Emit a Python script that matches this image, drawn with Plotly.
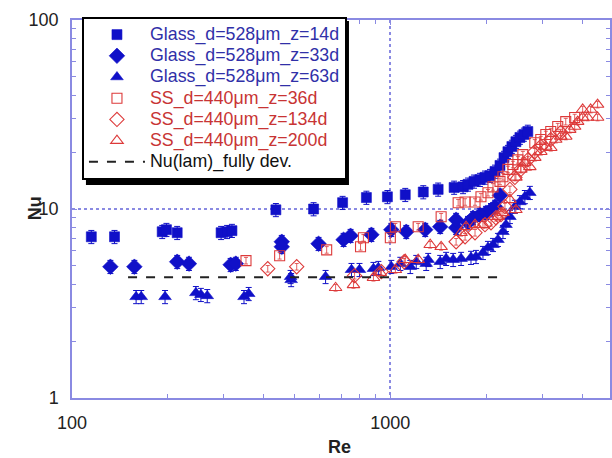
import plotly.graph_objects as go

# ---- measured Nusselt numbers vs Reynolds number ----
glass_14d_re = [115, 136, 192, 198, 214, 294, 307, 318, 437, 574, 708, 841, 979, 1114, 1269, 1413,
                1586, 1692, 1754, 1832, 1912, 1983, 2056, 2132, 2210, 2275, 2341, 2409, 2480, 2553,
                2627, 2703]
glass_14d_nu = [7.13, 7.13, 7.58, 7.77, 7.49, 7.49, 7.58, 7.68, 9.9, 10.0, 10.8, 11.5, 11.6, 11.9,
                12.3, 12.7, 13.0, 13.1, 13.5, 14.0, 14.3, 14.7, 15.0, 15.8, 17.0, 18.7, 20.1, 21.4,
                22.7, 23.9, 24.8, 25.7]

glass_33d_re = [132, 157, 214, 233, 315, 327, 456, 456, 595, 713, 750, 872, 1007, 1122, 1287, 1434,
                1609, 1609, 1754, 1819, 1912, 1997, 2071, 2132, 2210]
glass_33d_nu = [4.95, 4.95, 5.26, 5.14, 5.07, 5.14, 6.71, 6.31, 6.55, 6.88, 7.22, 7.31, 7.77, 7.58,
                7.77, 8.06, 7.96, 8.78, 8.46, 8.99, 9.33, 9.56, 9.9, 10.3, 11.8]

glass_63d_re = [159, 165, 196, 245, 254, 266, 347, 359, 486, 488, 626, 755, 800, 885, 917, 1007,
                1075, 1155, 1206, 1296, 1315, 1434, 1497, 1575, 1668, 1792, 1858, 1954, 2026, 2101,
                2178, 2258, 2308, 2375, 2462, 2553, 2646, 2743]
glass_63d_nu = [3.43, 3.43, 3.43, 3.60, 3.52, 3.47, 3.43, 3.56, 4.38, 4.22, 4.38, 4.77, 4.77, 4.83,
                4.89, 4.95, 5.14, 4.95, 5.26, 5.14, 5.39, 5.26, 5.46, 5.39, 5.46, 5.53, 5.59, 5.87,
                6.24, 6.47, 6.88, 7.58, 8.26, 9.10, 10.3, 10.9, 11.6, 12.2]

ss_36d_re = [352, 449, 631, 806, 823, 1000, 1037, 1223, 1444, 1633, 1717, 1845, 1926, 2026, 2101,
             2210, 2258, 2341, 2427, 2516, 2608, 2843, 2969, 3079, 3191, 3356, 3556, 3793]
ss_36d_nu = [5.33, 5.66, 6.08, 6.31, 7.04, 7.04, 8.06, 8.06, 9.10, 10.8, 10.9, 10.9, 11.6, 12.2,
             13.1, 14.0, 14.8, 16.2, 17.2, 18.2, 19.4, 22.4, 23.3, 24.8, 25.7, 27.3, 29.0, 30.5]

ss_134d_re = [412, 508, 772, 937, 1105, 1609, 1717, 1845, 1983, 2071, 2147, 2226, 2291, 2375, 2462,
              2570, 2703, 2843, 2969, 3191, 3429]
ss_134d_nu = [4.83, 4.95, 4.44, 4.66, 5.26, 6.71, 7.13, 7.49, 8.26, 8.46, 8.99, 9.33, 10.3, 12.7,
              14.7, 16.2, 18.2, 20.1, 21.4, 23.3, 25.4]

ss_200d_re = [673, 766, 885, 930, 1037, 1114, 1223, 1334, 1444, 1668, 1729, 1845, 1954, 2178, 2258,
              2480, 2375, 2480, 2570, 2646, 2743, 2843, 2969, 3079, 3191, 3308, 3429, 3556, 3660,
              3793, 3876, 4019, 4019, 4166, 4257, 4477, 4477]
ss_200d_nu = [3.83, 3.97, 4.33, 4.60, 4.77, 5.39, 5.39, 6.47, 6.31, 7.49, 8.06, 8.26, 8.26, 9.10,
              9.56, 9.9, 11.2, 14.7, 16.2, 17.6, 16.7, 18.7, 20.1, 21.4, 21.1, 23.3, 24.2, 24.2,
              26.3, 27.3, 29.0, 30.5, 33.6, 30.5, 33.6, 35.7, 30.5]

# laminar fully developed value
lam_re = [150, 2180]
lam_nu = [4.36, 4.36]

x_ticks = [100, 1000]
y_ticks = [1, 10, 100]
x_minor = [200, 300, 400, 500, 600, 700, 800, 900, 2000, 3000, 4000]
y_minor = [2, 3, 4, 5, 6, 7, 8, 9, 20, 30, 40, 50, 60, 70, 80, 90]

BLUE = "#1010c8"
RED = "#dd3a3a"
BLUE_TXT = "#3030a8"
RED_TXT = "#c83434"
AXIS = "#8a8ae2"
FONT = "Liberation Sans, Arial"
LEG_SIZE = "17.8px"

fig = go.Figure()


def label(text, color):
    return f"<span style='color:{color};font-size:{LEG_SIZE}'>{text}</span>"


def glass(name, x, y, symbol, size):
    fig.add_trace(go.Scatter(
        x=x, y=y, mode="markers", name=label(name, BLUE_TXT),
        marker=dict(symbol=symbol, size=size, color=BLUE, line=dict(width=0.6, color=BLUE)),
        error_y=dict(type="percent", value=8, color=BLUE, thickness=1, width=3),
    ))


def steel(name, x, y, symbol, size):
    fig.add_trace(go.Scatter(
        x=x, y=y, mode="markers", name=label(name, RED_TXT),
        marker=dict(symbol=symbol, size=size, color=RED, line=dict(width=1.1, color=RED)),
        error_y=dict(type="percent", value=4, color=RED, thickness=0.8, width=2),
    ))


glass("Glass_d=528μm_z=14d", glass_14d_re, glass_14d_nu, "square", 10)
glass("Glass_d=528μm_z=33d", glass_33d_re, glass_33d_nu, "diamond", 12)
glass("Glass_d=528μm_z=63d", glass_63d_re, glass_63d_nu, "triangle-up", 11)
steel("SS_d=440μm_z=36d", ss_36d_re, ss_36d_nu, "square-open", 10)
steel("SS_d=440μm_z=134d", ss_134d_re, ss_134d_nu, "diamond-open", 11)
steel("SS_d=440μm_z=200d", ss_200d_re, ss_200d_nu, "triangle-up-open", 11)

fig.add_trace(go.Scatter(
    x=lam_re, y=lam_nu, mode="lines", name=label("Nu(lam)_fully dev.", "#111111"),
    line=dict(color="#222222", width=2, dash="dash"),
))

axis_common = dict(
    type="log", showline=True, linecolor=AXIS, linewidth=1.5, mirror="ticks",
    ticks="inside", ticklen=5, tickcolor=AXIS, tickwidth=1,
    showgrid=True, gridcolor=AXIS, griddash="dot", gridwidth=1.5,
    zeroline=False, tickmode="array",
    tickfont=dict(family=FONT, size=18, color="#222222"),
)

fig.update_xaxes(
    **axis_common, range=[2, 3.69], tickvals=x_ticks, ticktext=["100", "1000"],
    ticklabelstandoff=8,
    minor=dict(tickmode="array", tickvals=x_minor, ticks="inside", ticklen=4,
               tickcolor=AXIS, showgrid=False),
)
fig.update_yaxes(
    **axis_common, range=[0, 2], tickvals=y_ticks, ticktext=["1", "10", "100"],
    ticklabelstandoff=8,
    minor=dict(tickmode="array", tickvals=y_minor, ticks="inside", ticklen=4,
               tickcolor=AXIS, showgrid=False),
)

# drop shadow behind the legend box
fig.add_shape(type="rect", xref="paper", yref="paper",
              x0=(86 - 72) / 540, x1=(350 - 72) / 540,
              y0=(398 - 185) / 378, y1=(398 - 21) / 378,
              fillcolor="black", line=dict(width=0), layer="above")

fig.add_annotation(text="<b>Nu</b>", xref="paper", yref="paper",
                   x=(35 - 72) / 540, y=(398 - 208) / 378, showarrow=False, textangle=-90,
                   xanchor="center", yanchor="middle",
                   font=dict(family=FONT, size=18, color="#222222"))
fig.add_annotation(text="<b>Re</b>", xref="paper", yref="paper",
                   x=(340 - 72) / 540, y=(398 - 447) / 378, showarrow=False,
                   xanchor="center", yanchor="middle",
                   font=dict(family=FONT, size=18, color="#222222"))

fig.update_layout(
    width=612, height=458,
    margin=dict(l=72, r=0, t=20, b=60),
    plot_bgcolor="white", paper_bgcolor="white",
    showlegend=True,
    legend=dict(
        x=(82 - 72) / 540, y=(398 - 17) / 378, xanchor="left", yanchor="top",
        bgcolor="white", bordercolor="black", borderwidth=2,
        font=dict(family=FONT, size=14.0, color="#111111"),
        itemwidth=56, tracegroupgap=0,
    ),
)

fig.write_html("out.html")
